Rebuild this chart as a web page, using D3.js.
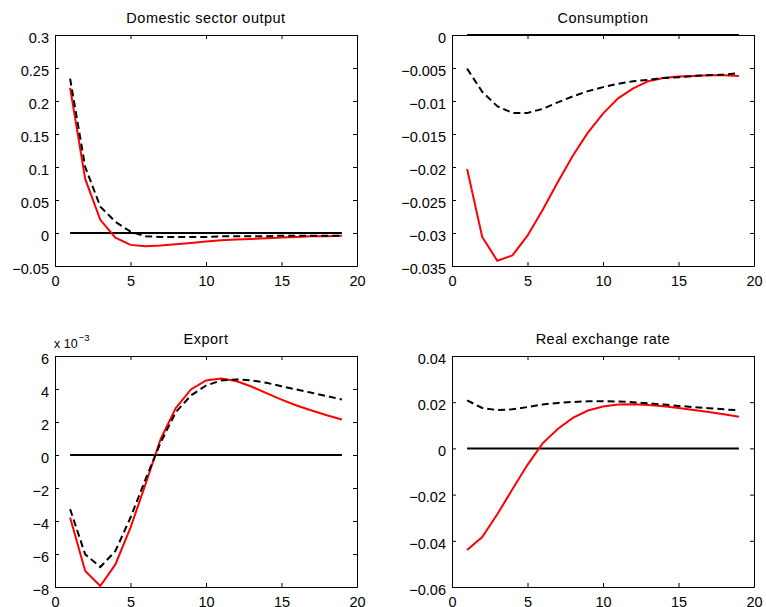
<!DOCTYPE html>
<html>
<head>
<meta charset="utf-8">
<script src="https://cdn.jsdelivr.net/npm/d3@7"></script>
<style>
	body { margin: 0; background: #fff; }
	svg { display: block; font-family: 'Liberation Sans', Arial, sans-serif; }
	.tick text { font-size: 14.5px; fill: #000; }
	.title { font-size: 14.5px; letter-spacing: 0.5px; }
</style>
</head>
<body>
<div id="chart"></div>
<script>
/*

*	Data (periods 1..19)

*/
var periods = d3.range(1, 20);
var xTicks = [0, 5, 10, 15, 20];

var titles = ['Domestic sector output', 'Consumption', 'Export', 'Real exchange rate'];

var outputRed = [0.220, 0.082, 0.020, -0.007, -0.018, -0.020, -0.019, -0.017, -0.015, -0.013, -0.011, -0.010, -0.009, -0.008, -0.007, -0.006, -0.005, -0.005, -0.004];
var outputDash = [0.234, 0.100, 0.040, 0.017, 0.002, -0.005, -0.006, -0.006, -0.006, -0.006, -0.005, -0.005, -0.005, -0.005, -0.004, -0.004, -0.004, -0.004, -0.004];

var consRed = [-0.0203, -0.0306, -0.0342, -0.0334, -0.0304, -0.0265, -0.0223, -0.0183, -0.0148, -0.0119, -0.0096, -0.0081, -0.0070, -0.0065, -0.0063, -0.0062, -0.0061, -0.0061, -0.0062];
var consDash = [-0.0051, -0.0086, -0.0108, -0.0118, -0.0118, -0.0112, -0.0102, -0.0093, -0.0085, -0.0079, -0.0074, -0.0070, -0.0068, -0.0065, -0.0064, -0.0062, -0.0061, -0.0060, -0.0058];

// export values are in units of 10^-3
var exportRed = [-3.79, -7.03, -7.94, -6.63, -4.40, -1.76, 0.97, 2.84, 3.97, 4.52, 4.64, 4.48, 4.15, 3.75, 3.36, 3.00, 2.70, 2.41, 2.15];
var exportDash = [-3.28, -6.02, -6.79, -5.82, -3.79, -1.46, 0.77, 2.59, 3.61, 4.21, 4.52, 4.58, 4.52, 4.38, 4.17, 3.97, 3.77, 3.57, 3.36];

var rerRed = [-0.0440, -0.0384, -0.0285, -0.0177, -0.0071, 0.0022, 0.0084, 0.0132, 0.0164, 0.0181, 0.0190, 0.0191, 0.0188, 0.0182, 0.0175, 0.0166, 0.0158, 0.0148, 0.0137];
var rerDash = [0.0208, 0.0175, 0.0166, 0.0169, 0.0179, 0.0190, 0.0197, 0.0201, 0.0204, 0.0204, 0.0203, 0.0200, 0.0195, 0.0190, 0.0184, 0.0179, 0.0174, 0.0169, 0.0165];

var outputTicks = [-0.05, 0, 0.05, 0.1, 0.15, 0.2, 0.25, 0.3];
var consTicks = [-0.035, -0.03, -0.025, -0.02, -0.015, -0.01, -0.005, 0];
var exportTicks = [-8, -6, -4, -2, 0, 2, 4, 6];
var rerTicks = [-0.06, -0.04, -0.02, 0, 0.02, 0.04];

/*

*	Layout

*/
var width = 766, height = 607;
var pw = 302, ph = 231;

var panels = [
	{ title: titles[0], left: 55, top: 35, red: outputRed, dash: outputDash, ticks: outputTicks },
	{ title: titles[1], left: 452, top: 35, red: consRed, dash: consDash, ticks: consTicks },
	{ title: titles[2], left: 55, top: 356, red: exportRed, dash: exportDash, ticks: exportTicks, exponent: true },
	{ title: titles[3], left: 452, top: 356, red: rerRed, dash: rerDash, ticks: rerTicks }
];

var svg = d3.select('#chart').append('svg').attr('width', width).attr('height', height);

function fmt(v) {
	var s = String(+v.toFixed(4));
	return v < 0 ? '\u2212' + s.slice(1) : s;
}

function drawPanel(p) {
	var g = svg.append('g').attr('transform', 'translate(' + p.left + ',' + p.top + ')');

	var x = d3.scaleLinear().domain([0, 20]).range([0, pw]);
	var y = d3.scaleLinear().domain(d3.extent(p.ticks)).range([ph, 0]);

	// inward ticks on all four sides
	g.append('g').attr('transform', 'translate(0,' + ph + ')')
		.call(d3.axisBottom(x).tickValues(xTicks).tickSizeInner(-4).tickSizeOuter(0).tickPadding(9.5).tickFormat(d3.format('d')));
	g.append('g')
		.call(d3.axisTop(x).tickValues(xTicks).tickSizeInner(-4).tickSizeOuter(0).tickFormat(''));
	g.append('g')
		.call(d3.axisLeft(y).tickValues(p.ticks).tickSizeInner(-4).tickSizeOuter(0).tickPadding(6).tickFormat(fmt))
		.selectAll('text').attr('dy', '0.5em');
	g.append('g').attr('transform', 'translate(' + pw + ',0)')
		.call(d3.axisRight(y).tickValues(p.ticks).tickSizeInner(-4).tickSizeOuter(0).tickFormat(''));

	g.selectAll('.domain').attr('stroke', '#000').attr('stroke-width', 1);
	g.selectAll('.tick line').attr('stroke', '#000');

	var line = d3.line()
		.x(function (d, i) { return x(periods[i]); })
		.y(function (d) { return y(d); });

	g.append('path')
		.datum(periods.map(function () { return 0; }))
		.attr('d', line)
		.attr('fill', 'none')
		.attr('stroke', '#000')
		.attr('stroke-width', 2);

	g.append('path')
		.datum(p.red)
		.attr('d', line)
		.attr('fill', 'none')
		.attr('stroke', '#ff0000')
		.attr('stroke-width', 2);

	g.append('path')
		.datum(p.dash)
		.attr('d', line)
		.attr('fill', 'none')
		.attr('stroke', '#000')
		.attr('stroke-width', 2)
		.attr('stroke-dasharray', '7,4');

	g.append('text')
		.attr('class', 'title')
		.attr('x', pw / 2)
		.attr('y', -12)
		.attr('text-anchor', 'middle')
		.text(p.title);

	if (p.exponent) {
		var t = g.append('text').attr('x', -1).attr('y', -8).style('font-size', '12.5px');
		t.append('tspan').text('x 10');
		t.append('tspan').attr('dx', 1).attr('dy', -7).style('font-size', '9.5px').text('\u22123');
	}
}

panels.forEach(drawPanel);
</script>
</body>
</html>
